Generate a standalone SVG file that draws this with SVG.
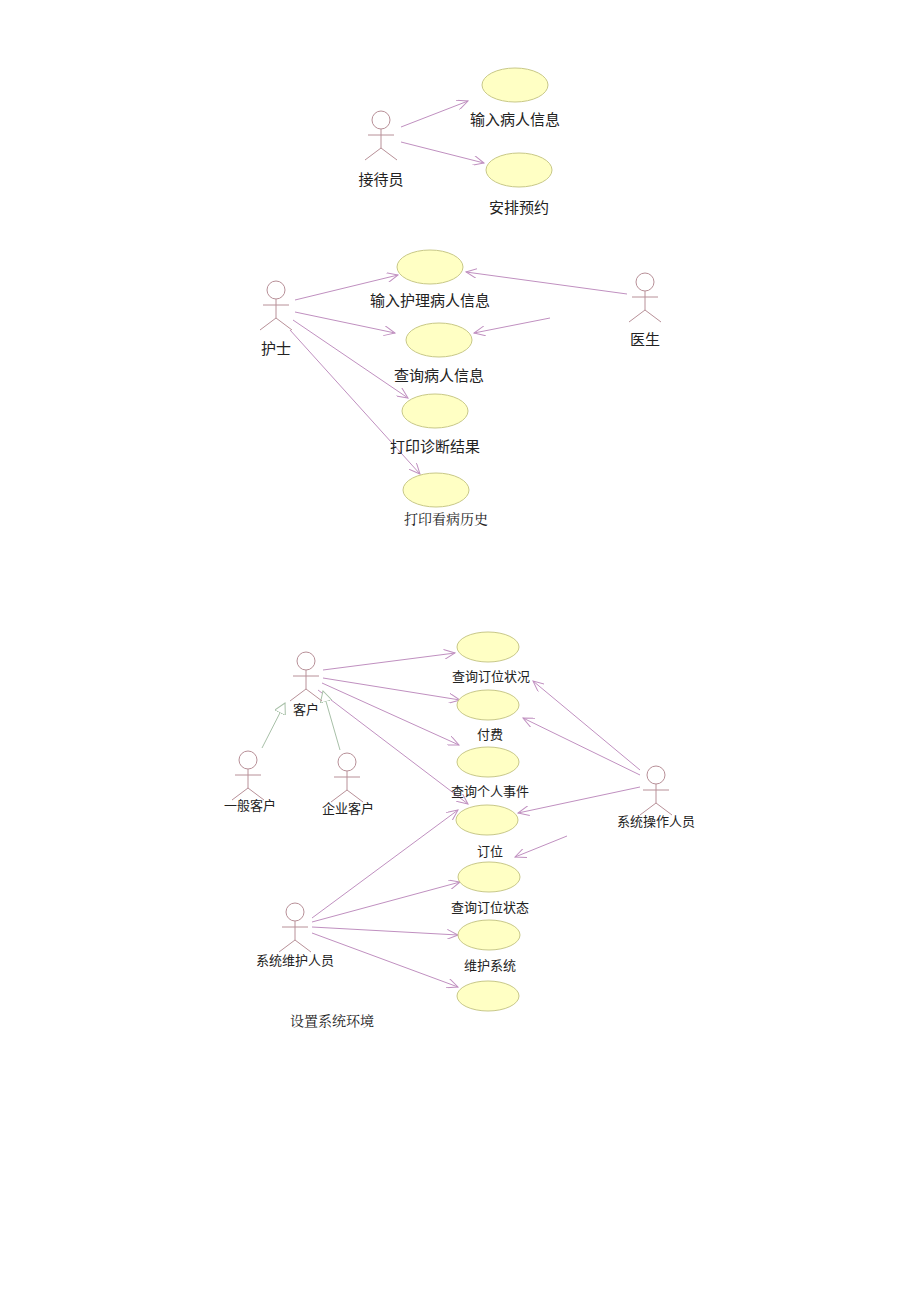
<svg xmlns="http://www.w3.org/2000/svg" width="920" height="1301" viewBox="0 0 920 1301">
<style>
.a{fill:none;stroke:#b89098;stroke-width:1}
.uc{fill:#ffffc4;stroke:#c8c888;stroke-width:1}
.c{fill:none;stroke:#c090c0;stroke-width:1;marker-end:url(#ar)}
.g{fill:none;stroke:#a8c0a8;stroke-width:1;marker-end:url(#tri)}
text{font-family:"Noto Sans CJK SC",sans-serif;font-size:15px;fill:#222;text-anchor:middle}
.s{font-family:"Noto Serif CJK SC","Noto Sans CJK SC",serif;font-size:14px}
.m{font-size:13px}
</style>
<defs>
<marker id="ar" markerWidth="12" markerHeight="10" refX="11" refY="5" orient="auto" markerUnits="userSpaceOnUse"><path d="M0,0 L11,5 L0,10" fill="none" stroke="#c090c0"/></marker>
<marker id="tri" markerWidth="12" markerHeight="12" refX="11" refY="6" orient="auto" markerUnits="userSpaceOnUse"><path d="M0,0 L11,6 L0,12 Z" fill="#fff" stroke="#a8c0a8"/></marker>
<g id="actor"><circle cx="0" cy="0" r="9" class="a"/><path d="M0,9 V28 M-13,15 H13 M0,28 L-16,40 M0,28 L16,40" class="a"/></g>
</defs>
<g id="connectors">
<line x1="401" y1="127" x2="468" y2="101" class="c"/>
<line x1="401" y1="142" x2="484" y2="163" class="c"/>
<line x1="295" y1="300" x2="398" y2="275" class="c"/>
<line x1="295" y1="312" x2="395" y2="333" class="c"/>
<line x1="293" y1="320" x2="408" y2="398" class="c"/>
<line x1="290" y1="330" x2="420" y2="474" class="c"/>
<line x1="627" y1="294" x2="466" y2="272" class="c"/>
<line x1="550" y1="318" x2="474" y2="333" class="c"/>
<line x1="323" y1="670" x2="455" y2="653" class="c"/>
<line x1="323" y1="678" x2="460" y2="700" class="c"/>
<line x1="322" y1="683" x2="459" y2="745" class="c"/>
<line x1="318" y1="690" x2="468" y2="804" class="c"/>
<line x1="640" y1="770" x2="533" y2="681" class="c"/>
<line x1="640" y1="775" x2="523" y2="718" class="c"/>
<line x1="640" y1="787" x2="518" y2="813" class="c"/>
<line x1="567" y1="836" x2="515" y2="857" class="c"/>
<line x1="312" y1="918" x2="458" y2="810" class="c"/>
<line x1="312" y1="922" x2="460" y2="882" class="c"/>
<line x1="312" y1="927" x2="458" y2="935" class="c"/>
<line x1="312" y1="933" x2="458" y2="987" class="c"/>
<line x1="262" y1="748" x2="285" y2="703" class="g"/>
<line x1="340" y1="750" x2="323" y2="691" class="g"/>
</g>
<g id="a1"><use href="#actor" x="381" y="120"/><text x="381" y="185" font-size="16">接待员</text></g>
<g id="u1"><ellipse cx="515" cy="85" rx="33" ry="17" class="uc"/><text x="515" y="125" font-size="16">输入病人信息</text></g>
<g id="u2"><ellipse cx="519" cy="170" rx="33" ry="17" class="uc"/><text x="519" y="213" font-size="16">安排预约</text></g>
<g id="a2"><use href="#actor" x="276" y="290"/><text x="276" y="354" font-size="16">护士</text></g>
<g id="a3"><use href="#actor" x="645" y="282"/><text x="645" y="345" font-size="16">医生</text></g>
<g id="u3"><ellipse cx="430" cy="267" rx="33" ry="17" class="uc"/><text x="430" y="306" font-size="16">输入护理病人信息</text></g>
<g id="u4"><ellipse cx="439" cy="340" rx="33" ry="17" class="uc"/><text x="439" y="381" font-size="16">查询病人信息</text></g>
<g id="u5"><ellipse cx="435" cy="411" rx="33" ry="17" class="uc"/><text x="435" y="452" font-size="16">打印诊断结果</text></g>
<g id="u6"><ellipse cx="436" cy="490" rx="33" ry="17" class="uc"/><text x="446" y="524" class="s">打印看病历史</text></g>
<g id="a4"><use href="#actor" x="306" y="661"/><text x="306" y="714" class="m">客户</text></g>
<g id="a5"><use href="#actor" x="248" y="760"/><text x="250" y="810" class="m">一般客户</text></g>
<g id="a6"><use href="#actor" x="347" y="762"/><text x="348" y="813" class="m">企业客户</text></g>
<g id="a7"><use href="#actor" x="656" y="775"/><text x="656" y="826" class="m">系统操作人员</text></g>
<g id="a8"><use href="#actor" x="295" y="912"/><text x="295" y="965" class="m">系统维护人员</text></g>
<g id="u7"><ellipse cx="488" cy="647" rx="31" ry="15" class="uc"/><text x="491" y="681" class="m">查询订位状况</text></g>
<g id="u8"><ellipse cx="488" cy="705" rx="31" ry="15" class="uc"/><text x="490" y="739" class="m">付费</text></g>
<g id="u9"><ellipse cx="488" cy="762" rx="31" ry="15" class="uc"/><text x="490" y="796" class="m">查询个人事件</text></g>
<g id="u10"><ellipse cx="487" cy="820" rx="31" ry="15" class="uc"/><text x="490" y="856" class="m">订位</text></g>
<g id="u11"><ellipse cx="489" cy="877" rx="31" ry="15" class="uc"/><text x="490" y="912" class="m">查询订位状态</text></g>
<g id="u12"><ellipse cx="489" cy="935" rx="31" ry="15" class="uc"/><text x="490" y="970" class="m">维护系统</text></g>
<g id="u13"><ellipse cx="488" cy="996" rx="31" ry="15" class="uc"/><text x="332" y="1026" class="s">设置系统环境</text></g>
</svg>
